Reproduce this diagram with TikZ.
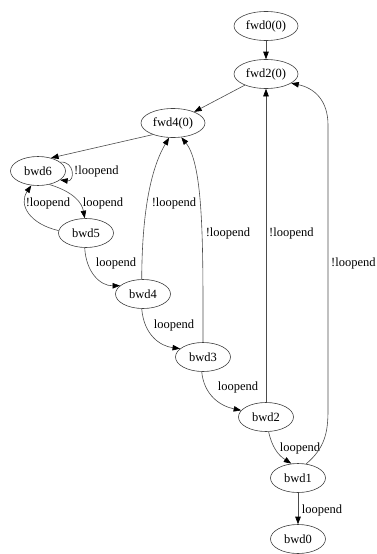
\documentclass[tikz,border=0pt]{standalone}
\usepackage{fontspec}
\setmainfont{Liberation Serif}
\usetikzlibrary{shapes.geometric,arrows.meta}

\tikzset{
  state/.style={draw=black!75, ellipse, line width=0.6pt, inner sep=0pt,
                minimum height=29pt, font=\fontsize{12.5}{14}\selectfont},
  fwdstate/.style={state, minimum width=64pt},
  bwdstate/.style={state, minimum width=55pt},
  arr/.style={draw=black!70, line width=0.6pt,
              -{Triangle[length=7.5pt,width=5.5pt,color=black,fill=black]}},
  lbl/.style={font=\fontsize{12.5}{14}\selectfont, inner sep=0pt}
}

\begin{document}
\begin{tikzpicture}[x=1pt, y=-1pt]
  \useasboundingbox (0,0) rectangle (376,554);

  % states
  \node[fwdstate] (fwd0) at (266,26)  {fwd0(0)};
  \node[fwdstate] (fwd2) at (266,74)  {fwd2(0)};
  \node[fwdstate] (fwd4) at (173,123) {fwd4(0)};
  \node[bwdstate] (bwd6) at (38,171)  {bwd6};
  \node[bwdstate] (bwd5) at (86,233)  {bwd5};
  \node[bwdstate] (bwd4) at (143,294) {bwd4};
  \node[bwdstate] (bwd3) at (203,357) {bwd3};
  \node[bwdstate] (bwd2) at (266,417) {bwd2};
  \node[bwdstate] (bwd1) at (298,478) {bwd1};
  \node[bwdstate] (bwd0) at (298,539) {bwd0};

  % forward chain
  \draw[arr] (fwd0) -- (fwd2);
  \draw[arr] (fwd2) -- (fwd4);
  \draw[arr] (fwd4.-150) -- (bwd6.45);

  % self loop on bwd6
  \draw[arr] (bwd6.22) .. controls (75,161) and (75,182) .. (bwd6.-22);
  \node[lbl, anchor=west] (l66) at (74,171) {!loopend};

  % bwd6 <-> bwd5
  \draw[arr] (bwd6.-50) .. controls (74,192) and (82,203) .. (bwd5.95);
  \node[lbl] (l65) at (103,203) {loopend};
  \draw[arr] (bwd5.175) .. controls (30,224) and (18,205) .. (bwd6.-115);
  \node[lbl] (l56) at (48,203) {!loopend};

  % bwd5 -> bwd4
  \draw[arr] (bwd5.-95) .. controls (86,272) and (100,286) .. (bwd4.160);
  \node[lbl] (l54) at (116,263) {loopend};

  % bwd4 -> fwd4
  \draw[arr] (bwd4.95) .. controls (142,215) and (150,170) .. (fwd4.-105);
  \node[lbl] (l4f) at (174,203) {!loopend};

  % bwd4 -> bwd3
  \draw[arr] (bwd4.-95) .. controls (144,335) and (160,346) .. (bwd3.160);
  \node[lbl] (l43) at (174,325) {loopend};

  % bwd3 -> fwd4
  \draw[arr] (bwd3.90) .. controls (203,250) and (204,165) .. (fwd4.-60);
  \node[lbl] (l3f) at (228,233) {!loopend};

  % bwd3 -> bwd2
  \draw[arr] (bwd3.-95) .. controls (204,395) and (220,406) .. (bwd2.165);
  \node[lbl] (l32) at (238,387) {loopend};

  % bwd2 -> fwd2
  \draw[arr] (bwd2) -- (fwd2);
  \node[lbl, anchor=west] (l2f) at (269,233) {!loopend};

  % bwd2 -> bwd1
  \draw[arr] (bwd2.-80) .. controls (272,447) and (278,455) .. (bwd1.115);
  \node[lbl] (l21) at (300,448) {loopend};

  % bwd1 -> fwd2
  \draw[arr] (bwd1.60) .. controls (325,448) and (328,432) .. (328,410)
             -- (328,125) .. controls (328,100) and (314,88) .. (fwd2.-20);
  \node[lbl, anchor=west] (l1f) at (331,263) {!loopend};

  % bwd1 -> bwd0
  \draw[arr] (bwd1) -- (bwd0);
  \node[lbl] (l10) at (322,510) {loopend};
\end{tikzpicture}
\end{document}
